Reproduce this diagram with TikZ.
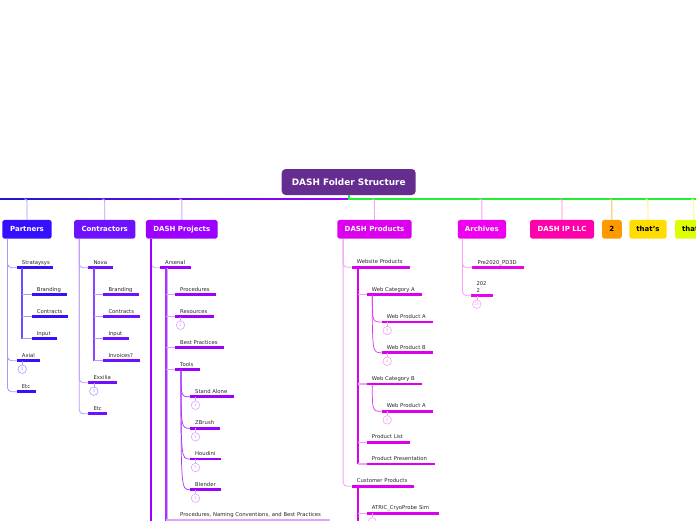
\documentclass[tikz,border=0pt]{standalone}
\usepackage{fontspec}
\setmainfont{DejaVu Sans}
\definecolor{paC}{HTML}{3311FF}\definecolor{paM}{HTML}{6650FF}\definecolor{paL}{HTML}{A898FF}
\definecolor{coC}{HTML}{6E11FF}\definecolor{coM}{HTML}{8A44FF}\definecolor{coL}{HTML}{BB99FF}
\definecolor{pjC}{HTML}{9E00FF}\definecolor{pjM}{HTML}{A833FF}\definecolor{pjL}{HTML}{D9A6FF}
\definecolor{pdC}{HTML}{DD00EE}\definecolor{pdM}{HTML}{E333F0}\definecolor{pdL}{HTML}{F3A0F8}
\definecolor{arC}{HTML}{EE00EE}\definecolor{arL}{HTML}{F8A0F6}
\definecolor{ipC}{HTML}{FF00AA}\definecolor{ipL}{HTML}{FF88CC}
\definecolor{twC}{HTML}{FF9900}\definecolor{twL}{HTML}{FFBB66}
\definecolor{thC}{HTML}{FFDD00}\definecolor{thL}{HTML}{FFE866}
\definecolor{ttC}{HTML}{DDFF00}\definecolor{ttL}{HTML}{EEFF66}
\definecolor{rootC}{HTML}{662D91}
\definecolor{lineBlue}{HTML}{1A1ACC}
\definecolor{lineGreen}{HTML}{22EE33}
\newcommand\leaf[7][]{%
  \pgfmathsetmacro\lw{#4-#3-10}%
  \node[lbl,text width=\lw pt,#1] (#2) at (#3,#5) {#7};
  \draw[bar,draw=#6] (#2.south west) -- (#2.south east);
}
\newcommand\badge[4]{%
  \node[badge,draw=#4,text=#4] (#1) at ([xshift=5.5pt,yshift=-8.5pt]#2.south west) {#3};
  \draw[draw=#4,line width=0.6pt] (#1.north) -- (#1.north |- #2.south);
}
% vertical strip node: name, top coordinate, width, height, colour
\newcommand\vstrip[5]{%
  \node[fill=#5, inner sep=0pt, minimum width=#3, minimum height=#4, anchor=north] (#1) at (#2) {};
}
\begin{document}
\begin{tikzpicture}[x=1pt,y=-1pt,
  lbl/.style={anchor=south west, inner xsep=5pt, inner ysep=2.2pt, text height=4.2pt, text depth=1.2pt, font=\fontsize{5.3}{6.3}\selectfont, text=black!85},
  bar/.style={line width=2.6pt},
  conn/.style={line width=0.8pt, rounded corners=4pt},
  br/.style={line width=1.4pt},
  curv/.style={line width=0.7pt},
  stem/.style={line width=0.9pt, rounded corners=2pt},
  box/.style={rounded corners=2.5pt, minimum height=18.7pt, inner xsep=4pt, inner ysep=0pt, font=\fontsize{7}{8}\bfseries\selectfont, text=white},
  rootbox/.style={rounded corners=4pt, fill=rootC, minimum width=134pt, minimum height=26pt, inner sep=0pt, font=\fontsize{8.9}{10}\bfseries\selectfont, text=white},
  badge/.style={circle, draw, line width=0.6pt, minimum size=8.5pt, inner sep=0pt, font=\fontsize{4}{4}\selectfont, fill=white},
]
\useasboundingbox (0,0) rectangle (696,520);
\fill[white] (0,0) rectangle (696,520);
\clip (0,0) rectangle (696,520);

% top line and root
\coordinate (ln) at (0,199);
\shade[left color=lineBlue, right color=pjC] (0,198.4) rectangle (348.5,199.6);
\fill[lineGreen] (348,198.4) rectangle (696,199.6);
\node[rootbox] (root) at (348.7,182) {DASH Folder Structure};
\vstrip{rootstem}{root.south}{1.6pt}{4.5pt}{lineGreen}

% main boxes
\node[box,fill=paC,minimum width=49.4pt] (pa) at (27,229.3) {Partners};
\node[box,fill=coC,minimum width=61.3pt] (co) at (104.7,229.3) {Contractors};
\node[box,fill=pjC,minimum width=71.7pt] (pj) at (181.8,229.3) {DASH Projects};
\node[box,fill=pdC,minimum width=74.4pt] (pd) at (374.5,229.3) {DASH Products};
\node[box,fill=arC,minimum width=48.3pt] (ar) at (481.9,229.3) {Archives};
\node[box,fill=ipC,minimum width=64pt] (ip) at (562,229.3) {DASH IP LLC};
\node[box,fill=twC,minimum width=19.7pt,text=black] (tw) at (611.9,229.3) {2};
\node[box,fill=thC,minimum width=37.4pt,text=black] (th) at (648,229.3) {that's};
\node[box,fill=ttC,minimum width=37.4pt,text=black] (tt) at (693.7,229.3) {that's};
\foreach \b/\c in {pa/paL,co/coL,pj/pjL,pd/pdL,ar/arL,ip/ipL,tw/twL,th/thL,tt/ttL}{
  \coordinate (\b-t) at (\b.north |- ln);
  \draw[stem,draw=\c] ([xshift=-3pt]\b-t) -| (\b.north);
}

% ---------- Partners
\coordinate (pav) at ([xshift=5.4pt]pa.south west);
\leaf{s1}{16.7}{52.7}{267.7}{paC}{Strataysys}
\leaf{s1a}{31.7}{66.7}{294.7}{paC}{Branding}
\leaf{s1b}{31.7}{68}{316.7}{paC}{Contracts}
\leaf{s1c}{31.7}{56.7}{338.7}{paC}{Input}
\leaf{s2}{16.7}{40}{360.7}{paC}{Axial}
\leaf{s3}{16.7}{35.3}{391.7}{paC}{Etc}
\badge{b1}{s2}{3}{paL}
\foreach \n in {s1,s2,s3} \draw[conn,draw=paL] (pav) |- (\n.south west);
\coordinate (s1v) at ([xshift=5.6pt]s1.south west);
\vstrip{s1strip}{s1v}{1.8pt}{71pt}{paM}
\foreach \n in {s1a,s1b,s1c} \draw[br,draw=paL] (s1v |- \n.south west) -- (\n.south west);

% ---------- Contractors
\coordinate (cov) at ([xshift=5.3pt]co.south west);
\leaf{n1}{88.3}{112.3}{267.7}{coC}{Nova}
\leaf{n1a}{103.3}{138.3}{294.7}{coC}{Branding}
\leaf{n1b}{103.3}{139.7}{316.7}{coC}{Contracts}
\leaf{n1c}{103.3}{128.3}{338.7}{coC}{Input}
\leaf{n1d}{103.3}{139.7}{360.7}{coC}{Invoices?}
\leaf{n2}{88.3}{116.3}{382.7}{coC}{Exxilia}
\leaf{n3}{88.3}{107}{413.7}{coC}{Etc}
\badge{b2}{n2}{3}{coL}
\foreach \n in {n1,n2,n3} \draw[conn,draw=coL] (cov) |- (\n.south west);
\coordinate (n1v) at ([xshift=6pt]n1.south west);
\vstrip{n1strip}{n1v}{1.8pt}{93pt}{coM}
\foreach \n in {n1a,n1b,n1c,n1d} \draw[br,draw=coL] (n1v |- \n.south west) -- (\n.south west);

% ---------- DASH Projects
\coordinate (pjv) at ([xshift=5.5pt]pj.south west);
\leaf{a1}{160}{190.7}{267.7}{pjC}{Arsenal}
\draw[conn,draw=pjL] (pjv) |- (a1.south west);
\vstrip{pjstrip}{pjv}{2pt}{282pt}{pjC}
\coordinate (a1v) at ([xshift=6pt]a1.south west);
\leaf{a1a}{175}{216}{294.7}{pjC}{Procedures}
\leaf{a1b}{175}{213.3}{316.7}{pjC}{Resources}
\leaf{a1c}{175}{223.3}{347.7}{pjC}{Best Practices}
\leaf{a1d}{175}{199.3}{369.7}{pjC}{Tools}
\leaf{a1e}{175}{330}{520}{pjL}{Procedures, Naming Conventions, and Best Practices}
\badge{b3}{a1b}{2}{pjL}
\coordinate (a1w) at ([xshift=1.4pt]a1v);
\vstrip{a1wstrip}{a1w}{1pt}{253pt}{pjL}
\vstrip{a1strip}{a1v}{1.6pt}{253pt}{pjM}
\foreach \n in {a1a,a1b,a1c,a1d,a1e} \draw[br,draw=pjL] (a1v |- \n.south west) -- (\n.south west);
\coordinate (a1dv) at ([xshift=6pt]a1d.south west);
\leaf{t1}{190}{234}{396.7}{pjC}{Stand Alone}
\leaf{t2}{190}{220}{428.3}{pjC}{ZBrush}
\leaf{t3}{190}{221}{459}{pjC}{Houdini}
\leaf{t4}{190}{221}{489.7}{pjC}{Blender}
\foreach \n in {t1,t2,t3,t4}{
  \draw[curv,draw=pjM] (a1dv) .. controls (a1dv |- \n.south west) .. (\n.south west);
}
\badge{b4}{t1}{3}{pjL}
\badge{b5}{t2}{3}{pjL}
\badge{b6}{t3}{3}{pjL}
\badge{b7}{t4}{3}{pjL}

% ---------- DASH Products
\coordinate (pdv) at ([xshift=6pt]pd.south west);
\leaf{p1}{351.7}{409.3}{267.3}{pdC}{Website Products}
\leaf{p2}{351.7}{414}{486.3}{pdC}{Customer Products}
\foreach \n in {p1,p2} \draw[conn,draw=pdL] (pdv) |- (\n.south west);
\coordinate (p1v) at ([xshift=6pt]p1.south west);
\leaf{p1a}{366.7}{421.3}{294.7}{pdC}{Web Category A}
\leaf{p1b}{366.7}{421.3}{384}{pdC}{Web Category B}
\leaf{p1c}{366.7}{409.3}{442.3}{pdC}{Product List}
\leaf{p1d}{366.7}{434.3}{464}{pdC}{Product Presentation}
\vstrip{p1strip}{p1v}{2pt}{196.7pt}{pdC}
\foreach \n in {p1a,p1b,p1c,p1d} \draw[br,draw=pdL] (p1v |- \n.south west) -- (\n.south west);
\coordinate (p1av) at ([xshift=5.6pt]p1a.south west);
\coordinate (p1bv) at ([xshift=5.6pt]p1b.south west);
\leaf{w1}{381.7}{432.3}{322}{pdC}{Web Product A}
\leaf{w2}{381.7}{432.3}{352.7}{pdC}{Web Product B}
\leaf{w3}{381.7}{432.3}{411.3}{pdC}{Web Product A}
\foreach \n in {w1,w2} \draw[curv,draw=pdM] (p1av) .. controls (p1av |- \n.south west) .. (\n.south west);
\draw[curv,draw=pdM] (p1bv) .. controls (p1bv |- w3.south west) .. (w3.south west);
\badge{b8}{w1}{4}{pdL}
\badge{b9}{w2}{4}{pdL}
\badge{b10}{w3}{4}{pdL}
\coordinate (p2v) at ([xshift=6pt]p2.south west);
\leaf{q1}{366.7}{438.3}{513.3}{pdC}{ATRIC\_CryoProbe Sim}
\vstrip{p2strip}{p2v}{2pt}{34pt}{pdC}
\draw[br,draw=pdL] (p2v |- q1.south west) -- (q1.south west);
\badge{b11}{q1}{}{pdL}

% ---------- Archives
\coordinate (arv) at ([xshift=5pt]ar.south west);
\leaf{r1}{472.3}{523.3}{267.7}{arC}{Pre2020\_PD3D}
\leaf[text height=10.5pt]{r2}{471.3}{492.7}{295.7}{arC}{\vbox{\hbox{202}\hbox{2}}}
\foreach \n in {r1,r2} \draw[conn,draw=arL] (arv) |- (\n.south west);
\badge{b12}{r2}{15}{arL}
\end{tikzpicture}
\end{document}
